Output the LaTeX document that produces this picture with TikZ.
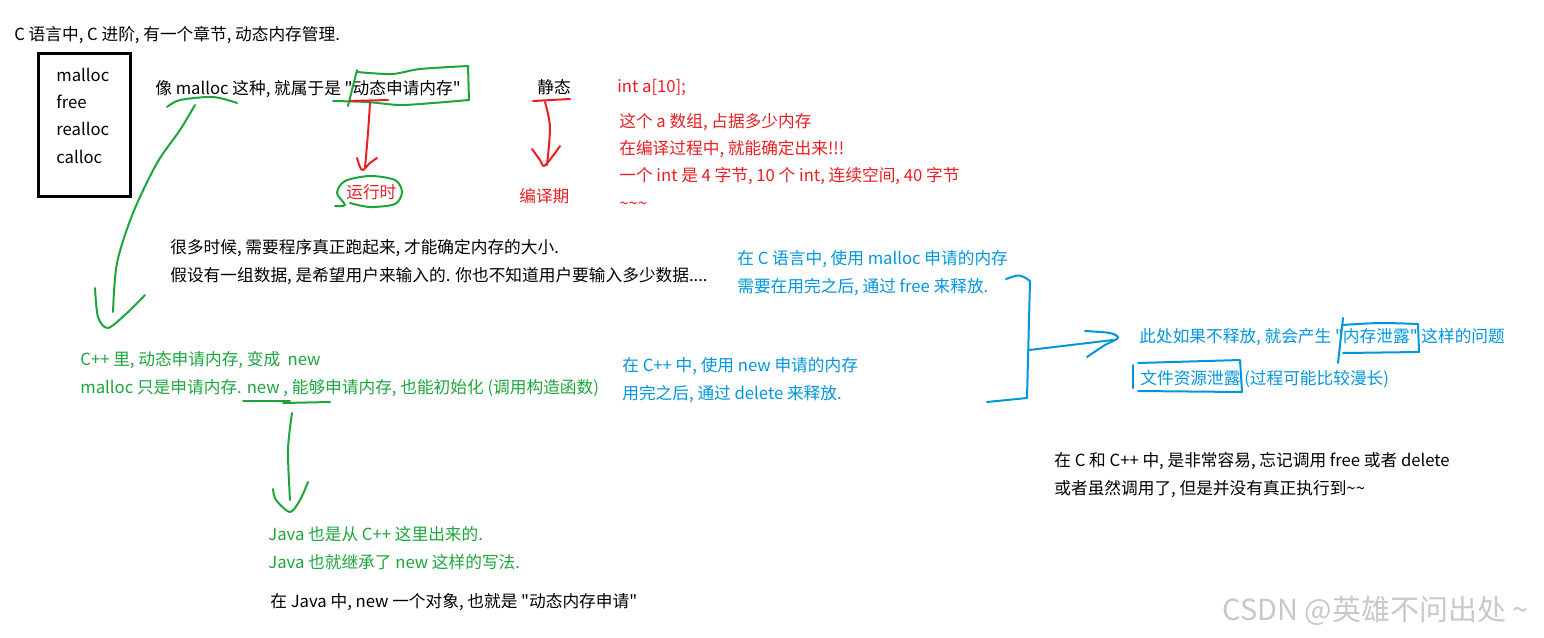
\documentclass[tikz,border=0pt]{standalone}
\usepackage{fontspec}
\setmainfont{Noto Sans CJK SC}[Ligatures=TeXOff]
\usetikzlibrary{calc}
\tikzset{every node/.style={font=\fontsize{9.5}{15.4}\selectfont, inner sep=0pt, anchor=base west, align=left}}
\tikzset{pen/.style={line width=0.04cm, line cap=round, line join=round}}

\begin{document}
\begin{tikzpicture}[x=0.02cm, y=-0.02cm]
  % Page frame (pixels of the screenshot).
  \path[use as bounding box] (0,0) rectangle (1544,637);

  % Ink colours.
  \definecolor{inkred}{RGB}{232,30,35}
  \definecolor{inkgreen}{RGB}{28,165,60}
  \definecolor{inkblue}{RGB}{0,150,220}
  \definecolor{inkmark}{RGB}{200,200,200}

  % Typed notes (multi-line nodes sit on their last line).
  \node (title) at (14,40) {C 语言中, C 进阶, 有一个章节, 动态内存管理.};
  \node (funcs) at (56,163) {malloc\\free\\realloc\\calloc};
  \draw[line width=0.06cm] (38,53) rectangle (130,196);
  \node (dyn) at (155,94) {像 malloc 这种, 就属于是 "动态申请内存"};
  \node (static) at (537,93) {静态};
  \node[text=inkred] (intdecl) at (617,92) {int a[10];};
  \node[text=inkred] (arrnote) at (619,209) {这个 a 数组, 占据多少内存\\在编译过程中, 就能确定出来!!!\\一个 int 是 4 字节, 10 个 int, 连续空间, 40 字节\\\textasciitilde\textasciitilde\textasciitilde};
  \node[text=inkred] (runtime) at (346,198) {运行时};
  \node[text=inkred] (compile) at (519,202) {编译期};
  \node (needrun) at (170,281) {很多时候, 需要程序真正跑起来, 才能确定内存的大小.\\假设有一组数据, 是希望用户来输入的. 你也不知道用户要输入多少数据....};
  \node[text=inkblue] (cfree) at (737,292) {在 C 语言中, 使用 malloc 申请的内存\\需要在用完之后, 通过 free 来释放.};
  \node[text=inkgreen] (cppnew) at (80,393) {C++ 里, 动态申请内存, 变成\ \ new\\malloc 只是申请内存. new , 能够申请内存, 也能初始化 (调用构造函数)};
  \node[text=inkblue] (cppdel) at (622,399) {在 C++ 中, 使用 new 申请的内存\\用完之后, 通过 delete 来释放.};
  \node[text=inkblue] (leak) at (1139,342) {此处如果不释放, 就会产生 "内存泄露" 这样的问题};
  \node[text=inkblue] (fileleak) at (1140,384) {文件资源泄露 (过程可能比较漫长)};
  \node (forget) at (1054,494) {在 C 和 C++ 中, 是非常容易, 忘记调用 free 或者 delete\\或者虽然调用了, 但是并没有真正执行到\textasciitilde\textasciitilde};
  \node[text=inkgreen] (java) at (268,568) {Java 也是从 C++ 这里出来的.\\Java 也就继承了 new 这样的写法.};
  \node (javanew) at (270,607) {在 Java 中, new 一个对象, 也就是 "动态内存申请"};
  \node[text=inkmark, font=\fontsize{16.5}{18}\selectfont] (mark) at (1222,620) {CSDN @英雄不问出处 \textasciitilde};

  % Green pen: malloc -> C++ new.
  \draw[pen, inkgreen] plot[smooth] coordinates {(167,107) (180,100) (213,97) (237,103)};
  \draw[pen, inkgreen] plot[smooth] coordinates {(195,105) (180,130) (157,163) (133,213) (117,263) (113,312)};
  \draw[pen, inkgreen] plot[smooth] coordinates {(95,288) (98,317) (108,328) (127,313) (145,295)};

  % Green box round the quoted term, red underline and arrow.
  \draw[pen, inkgreen] (357,70) -- (348,106);
  \draw[pen, inkgreen] plot[smooth] coordinates {(357,72) (392,74) (420,69) (468,66)} -- (469,100);
  \draw[pen, inkgreen] plot[smooth] coordinates {(469,100) (433,103) (400,105) (367,102) (333,101)};
  \draw[pen, inkred] (350,101) -- (388,100);
  \draw[pen, inkred] plot[smooth] coordinates {(370,103) (368,133) (365,168)};
  \draw[pen, inkred] plot[smooth] coordinates {(357,158) (360,167) (363,170) (370,163) (377,158)};
  \draw[pen, inkgreen] plot[smooth] coordinates {(335,206) (345,205) (337,193) (345,181) (370,176) (395,180) (402,192) (395,204) (370,207) (350,203)};

  % Red arrow under the static label.
  \draw[pen, inkred] (533,101) -- (570,99);
  \draw[pen, inkred] plot[smooth] coordinates {(545,102) (550,127) (547,165)};
  \draw[pen, inkred] plot[smooth] coordinates {(532,149) (540,160) (544,166) (552,157) (560,146)};

  % Green underline of new and arrow to Java.
  \draw[pen, inkgreen] (243,401) -- (290,401);
  \draw[pen, inkgreen] (283,403) -- (330,402);
  \draw[pen, inkgreen] plot[smooth] coordinates {(292,413) (288,450) (290,500)};
  \draw[pen, inkgreen] plot[smooth] coordinates {(273,489) (276,500) (290,512) (300,500) (308,482)};

  % Blue bracket and arrow to the leak note.
  \draw[pen, inkblue] (1006,279) .. controls (1020,274) .. (1030,281) -- (1027,398) -- (987,402);
  \draw[pen, inkblue] (1029,350) -- (1113,340);
  \draw[pen, inkblue] plot[smooth] coordinates {(1085,331) (1110,333) (1118,338) (1105,345) (1087,357)};

  % Blue boxes round the leak terms.
  \draw[pen, inkblue] (1343,318) -- (1338,363);
  \draw[pen, inkblue] plot[smooth] coordinates {(1342,325) (1380,323) (1418,324)} -- (1419,352) -- (1343,353);
  \draw[pen, inkblue] (1133,365) -- (1133,388);
  \draw[pen, inkblue] (1138,363) -- (1240,360) -- (1242,392) -- (1138,391);
\end{tikzpicture}
\end{document}
